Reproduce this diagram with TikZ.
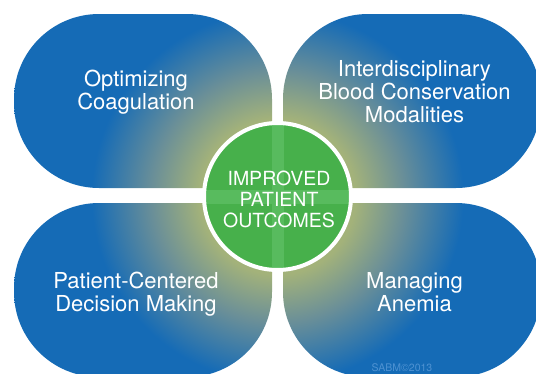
\documentclass[tikz,border=0pt]{standalone}
\usepackage{fontspec}
\setmainfont{TeX Gyre Heros}
\definecolor{petalblue}{HTML}{156BB6}
\definecolor{petalmid}{HTML}{6A8F98}
\definecolor{petalglow}{HTML}{A3B27A}
\definecolor{hubgreen}{HTML}{47B04B}
\definecolor{hubband}{HTML}{58BB5E}
\definecolor{markblue}{HTML}{4E92D2}
\pgfdeclareradialshading{glow}{\pgfpoint{0bp}{0bp}}{color(0bp)=(petalglow); color(6.5bp)=(petalglow); color(10.5bp)=(petalmid); color(15.5bp)=(petalblue); color(50bp)=(petalblue)}

\begin{document}
\begin{tikzpicture}[x=1pt,y=-1pt,
  petaltext/.style={text=white,align=center,font=\fontsize{22}{23}\selectfont},
  hubtext/.style={text=white,align=center,font=\fontsize{19.5}{21}\selectfont}]
  \useasboundingbox (0,0) rectangle (536,373);
  \begin{scope}
    \clip (0,0) rectangle (536,373);
    \begin{scope}
      \clip[rounded corners=85pt]
        (272,188) -- (14,188) -- (14,14) -- (272,14) -- (272,188)
        (283,188) -- (541,188) -- (541,14) -- (283,14) -- (283,188)
        (272,203) -- (14,203) -- (14,377) -- (272,377) -- (272,203)
        (283,203) -- (283,377) -- (541,377) -- (541,203) -- (283,203);
      \shade[shading=glow] (277.5,196.5) circle (300);
    \end{scope}
  \end{scope}

  \node[circle,fill=hubgreen,draw=white,line width=4pt,minimum size=147pt,inner sep=0pt,
    path picture={
      \fill[hubband] ([xshift=-6pt]path picture bounding box.north) rectangle ([xshift=6pt]path picture bounding box.south);
      \fill[hubband] ([yshift=7pt]path picture bounding box.west) rectangle ([yshift=-7pt]path picture bounding box.east);
    }] (hub) at (277.5,196.5) {};
  \node[hubtext] (outcomes) at (279,199) {IMPROVED\\PATIENT\\OUTCOMES};

  \node[petaltext] (coag) at (136,92) {Optimizing\\Coagulation};
  \node[petaltext] (blood) at (414.5,92) {Interdisciplinary\\Blood Conservation\\Modalities};
  \node[petaltext] (decision) at (136,294) {Patient-Centered\\Decision Making};
  \node[petaltext] (anemia) at (414.5,292) {Managing\\Anemia};
  \node[text=markblue,font=\fontsize{10.5}{12}\selectfont] (mark) at (402,368) {SABM\textcopyright2013};
\end{tikzpicture}
\end{document}
